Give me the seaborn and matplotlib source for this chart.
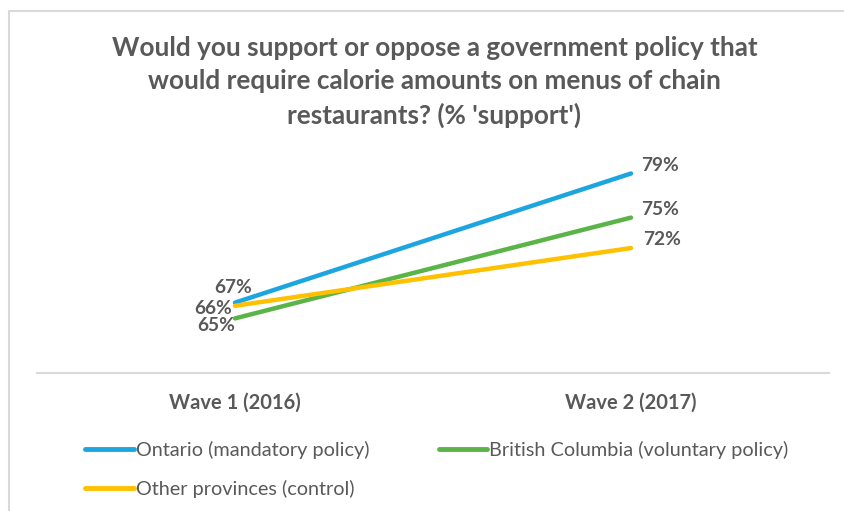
import matplotlib
matplotlib.use("Agg")
import matplotlib.pyplot as plt
from matplotlib.lines import Line2D
import seaborn as sns
import pandas as pd

# ---- data ----
waves = ["Wave 1 (2016)", "Wave 2 (2017)"]
series_names = ["Ontario (mandatory policy)", "British Columbia (voluntary policy)", "Other provinces (control)"]
ontario = [66.7, 79.0]
british_columbia = [65.2, 74.8]
other_provinces = [66.4, 71.9]
title = "Would you support or oppose a government policy that\nwould require calorie amounts on menus of chain\nrestaurants? (% 'support')"

colors = ["#1CA5DF", "#5AB447", "#FFC000"]

rows = []
for name, vals in zip(series_names, [ontario, british_columbia, other_provinces]):
    for w, v in zip(waves, vals):
        rows.append({"wave": w, "value": v, "series": name})
df = pd.DataFrame(rows)

sns.set_style("white")
plt.rcParams["font.family"] = ["Lato", "DejaVu Sans"]

W, H = 844, 511
fig = plt.figure(figsize=(W / 100, H / 100), dpi=100)
ax = fig.add_axes([37 / W, 138 / H, (829 - 37) / W, (373 - 110.5) / H])

sns.lineplot(data=df, x="wave", y="value", hue="series", hue_order=series_names,
             palette=colors, linewidth=3.2, ax=ax, legend=False, sort=False,
             solid_capstyle="round")

ax.set_xlim(-0.5, 1.5)
ax.set_ylim(60, 85)
ax.set_xlabel("")
ax.set_ylabel("")
ax.set_yticks([])
for s in ["top", "left", "right"]:
    ax.spines[s].set_visible(False)
ax.spines["bottom"].set_color("#D9D9D9")
ax.spines["bottom"].set_linewidth(1.5)
ax.tick_params(axis="x", length=0, pad=14, labelsize=14.5, labelcolor="#595959")
for lab in ax.get_xticklabels():
    lab.set_fontweight("bold")

label_color = "#595959"
# data labels: (series values, left offset, left ha, right offset)
label_specs = [
    (ontario, (-2, 15), "center", (10, 8)),
    (british_columbia, (0, -7), "right", (10, 8)),
    (other_provinces, (-3, -3), "right", (12, 9)),
]
for vals, loff, lha, roff in label_specs:
    ax.annotate(f"{vals[0]:.0f}%", xy=(0, vals[0]), xytext=loff, textcoords="offset pixels",
                ha=lha, va="center", fontsize=13.8, fontweight="bold", color=label_color,
                annotation_clip=False)
    ax.annotate(f"{vals[1]:.0f}%", xy=(1, vals[1]), xytext=roff, textcoords="offset pixels",
                ha="left", va="center", fontsize=13.8, fontweight="bold", color=label_color,
                annotation_clip=False)

fig.text(434.5 / W, 1 - 82 / H, title, ha="center", va="center", fontsize=18.8,
         fontweight="bold", color="#595959", linespacing=1.43)

# frame
fig.add_artist(Line2D([9 / W, 9 / W], [0, 1 - 11 / H], color="#D9D9D9", lw=1.5))
fig.add_artist(Line2D([9 / W, 1], [1 - 11 / H, 1 - 11 / H], color="#D9D9D9", lw=1.5))

# legend: row-wise order (Ontario, BC / Other)
order = [0, 2, 1]
handles = [Line2D([0], [0], color=colors[i], lw=3.5) for i in order]
fig.legend(handles, [series_names[i] for i in order], loc="upper left",
           bbox_to_anchor=(85 / W, 1 - 441 / H),
           ncol=2, frameon=False, fontsize=14.3, labelcolor="#595959",
           handlelength=2.45, handletextpad=0.1, columnspacing=3.5, labelspacing=1.07,
           borderaxespad=0, borderpad=0)

fig.savefig("out.png", dpi=100)
